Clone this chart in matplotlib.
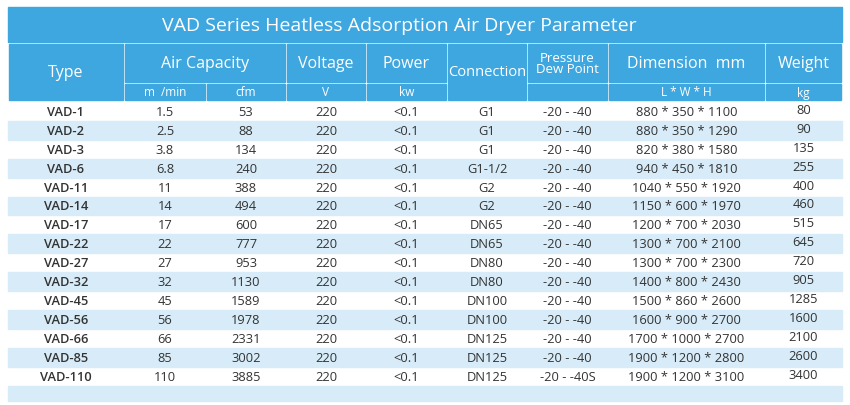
import matplotlib
matplotlib.use("Agg")
import matplotlib.pyplot as plt
from matplotlib.patches import Rectangle

types = ["VAD-1","VAD-2","VAD-3","VAD-6","VAD-11","VAD-14","VAD-17","VAD-22","VAD-27","VAD-32","VAD-45","VAD-56","VAD-66","VAD-85","VAD-110"]
capacity_m3 = ["1.5","2.5","3.8","6.8","11","14","17","22","27","32","45","56","66","85","110"]
capacity_cfm = ["53","88","134","240","388","494","600","777","953","1130","1589","1978","2331","3002","3885"]
voltage = ["220"]*15
power = ["<0.1"]*15
connection = ["G1","G1","G1","G1-1/2","G2","G2","DN65","DN65","DN80","DN80","DN100","DN100","DN125","DN125","DN125"]
dewpoint = ["-20 - -40"]*14 + ["-20 - -40S"]
dimension = ["880 * 350 * 1100","880 * 350 * 1290","820 * 380 * 1580","940 * 450 * 1810","1040 * 550 * 1920",
             "1150 * 600 * 1970","1200 * 700 * 2030","1300 * 700 * 2100","1300 * 700 * 2300","1400 * 800 * 2430",
             "1500 * 860 * 2600","1600 * 900 * 2700","1700 * 1000 * 2700","1900 * 1200 * 2800","1900 * 1200 * 3100"]
weight = ["80","90","135","255","400","460","515","645","720","905","1285","1600","2100","2600","3400"]

W, H = 850, 406
fig = plt.figure(figsize=(8.5, 4.06), dpi=100)
ax = fig.add_axes([0, 0, 1, 1])
ax.set_xlim(0, W); ax.set_ylim(H, 0); ax.axis("off")
FONT = "Open Sans"
blue = "#3fa7df"; light = "#d7ecf8"; txt = "#333333"

xs = [8, 124, 206, 286, 366, 447, 527, 608, 765, 842]
ax.add_patch(Rectangle((xs[0], 8), xs[-1]-xs[0], 35, color=blue))
ax.text(W/2 - 26, 26, "VAD Series Heatless Adsorption Air Dryer Parameter", color="white",
        fontsize=14, ha="center", va="center", family=FONT)

def cell(x0, x1, y0, y1, s, fs=11.5, ls=1.0):
    ax.add_patch(Rectangle((x0+1, y0), x1-x0-2, y1-y0, color=blue))
    ax.text((x0+x1)/2, (y0+y1)/2, s, color="white", fontsize=fs, ha="center", va="center",
            family=FONT, linespacing=ls)
cell(xs[0], xs[1], 45, 101, "Type")
cell(xs[1], xs[3], 45, 83, "Air Capacity")
cell(xs[3], xs[4], 45, 83, "Voltage")
cell(xs[4], xs[5], 45, 83, "Power")
cell(xs[5], xs[6], 45, 101, "Connection", fs=10.5)
cell(xs[6], xs[7], 45, 83, "Pressure\nDew Point", fs=9.5, ls=0.85)
cell(xs[7], xs[8], 45, 83, "Dimension  mm")
cell(xs[8], xs[9], 45, 83, "Weight")
subs = ["m  /min", "cfm", "V", "kw", None, "\u2103", "L * W * H", "kg"]
for i, s in enumerate(subs):
    if s is None:
        continue
    c = i + 1
    cell(xs[c], xs[c+1], 85, 101, s, fs=8.5)

cols = [types, capacity_m3, capacity_cfm, voltage, power, connection, dewpoint, dimension, weight]
y0 = 103; rh = 18.9
for r in range(len(types)):
    yt = y0 + r*rh
    if r % 2 == 1:
        ax.add_patch(Rectangle((xs[0], yt), xs[-1]-xs[0], rh, color=light))
    for c, col in enumerate(cols):
        dy = -2 if c == 8 else 0
        ax.text((xs[c]+xs[c+1])/2, yt + rh/2 + dy, col[r], color=txt, fontsize=9.3,
                ha="center", va="center", family=FONT,
                fontweight="semibold" if c == 0 else "normal")
yb = y0 + len(types)*rh
ax.add_patch(Rectangle((xs[0], yb), xs[-1]-xs[0], 402-yb, color=light))
fig.savefig("out.png", dpi=100, facecolor="white")
